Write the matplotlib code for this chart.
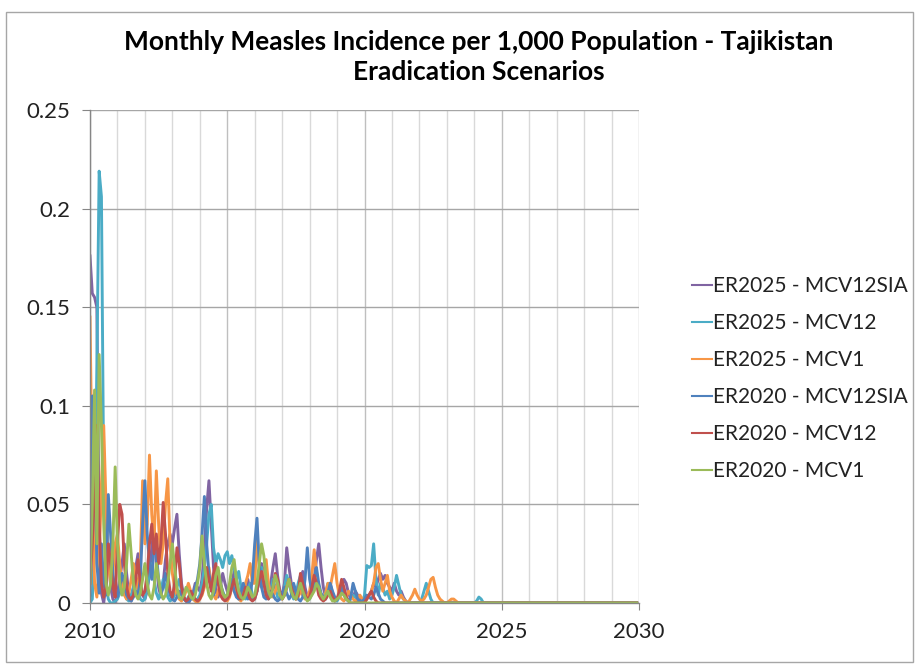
import numpy as np
import matplotlib
matplotlib.use("Agg")
import matplotlib.pyplot as plt
from matplotlib.patches import Rectangle
from matplotlib.ticker import MultipleLocator, FixedLocator

plt.rcParams['font.family'] = ['Lato', 'DejaVu Sans']

title = "Monthly Measles Incidence per 1,000 Population - Tajikistan\nEradication Scenarios"
start_year = 2010
end_year = 2030
x_tick_years = [2010, 2015, 2020, 2025, 2030]
y_ticks = [0, 0.05, 0.1, 0.15, 0.2, 0.25]
y_tick_labels = ["0", "0.05", "0.1", "0.15", "0.2", "0.25"]

labels = ["ER2025 - MCV12SIA", "ER2025 - MCV12", "ER2025 - MCV1",
          "ER2020 - MCV12SIA", "ER2020 - MCV12", "ER2020 - MCV1"]
colors = ["#8064A2", "#4BACC6", "#F79646", "#4F81BD", "#C0504D", "#9BBB59"]

Z = [0, 0, 0, 0, 0, 0, 0, 0, 0, 0, 0, 0]

er2025_mcv12sia = [
    0.176, 0.157, 0.155, 0.150, 0.040, 0.005, 0.000, 0.010, 0.030, 0.008, 0.002, 0.000,
    0.005, 0.012, 0.020, 0.030, 0.015, 0.004, 0.001, 0.008, 0.018, 0.025, 0.012, 0.004,
    0.002, 0.006, 0.015, 0.028, 0.038, 0.020, 0.008, 0.003, 0.010, 0.022, 0.030, 0.035,
    0.030, 0.038, 0.045, 0.025, 0.010, 0.003, 0.001, 0.000, 0.002, 0.005, 0.010, 0.008,
    0.006, 0.012, 0.028, 0.048, 0.062, 0.040, 0.018, 0.006, 0.003, 0.008, 0.015, 0.010,
    0.006, 0.004, 0.010, 0.016, 0.012, 0.006, 0.002, 0.004, 0.008, 0.012, 0.006, 0.002,
    0.003, 0.006, 0.012, 0.020, 0.015, 0.008, 0.004, 0.010, 0.018, 0.025, 0.014, 0.006,
    0.004, 0.010, 0.028, 0.018, 0.010, 0.006, 0.002, 0.004, 0.010, 0.016, 0.008, 0.003,
    0.003, 0.006, 0.012, 0.022, 0.030, 0.018, 0.008, 0.003, 0.006, 0.010, 0.005, 0.002,
    0.002, 0.004, 0.008, 0.012, 0.010, 0.005, 0.002, 0.003, 0.006, 0.004, 0.002, 0.001,
    0.001, 0.002, 0.004, 0.006, 0.010, 0.008, 0.012, 0.015, 0.012, 0.014, 0.010, 0.008,
    0.006, 0.010, 0.006, 0.004, 0.006, 0.003, 0.001, 0.000, 0.000, 0.000, 0.000, 0.000,
] + Z * 8

er2025_mcv12 = [
    0.000, 0.002, 0.030, 0.120, 0.219, 0.206, 0.060, 0.010, 0.002, 0.000, 0.000, 0.001,
    0.002, 0.005, 0.010, 0.006, 0.002, 0.001, 0.004, 0.008, 0.012, 0.006, 0.002, 0.001,
    0.002, 0.008, 0.015, 0.020, 0.012, 0.005, 0.002, 0.006, 0.012, 0.008, 0.003, 0.001,
    0.002, 0.004, 0.008, 0.012, 0.006, 0.002, 0.001, 0.003, 0.005, 0.003, 0.001, 0.002,
    0.004, 0.010, 0.018, 0.030, 0.045, 0.050, 0.028, 0.020, 0.025, 0.022, 0.018, 0.024,
    0.026, 0.020, 0.024, 0.018, 0.012, 0.016, 0.008, 0.004, 0.002, 0.006, 0.010, 0.004,
    0.002, 0.006, 0.012, 0.018, 0.010, 0.004, 0.002, 0.006, 0.012, 0.008, 0.003, 0.002,
    0.003, 0.008, 0.014, 0.010, 0.005, 0.002, 0.004, 0.010, 0.014, 0.008, 0.003, 0.002,
    0.002, 0.005, 0.008, 0.012, 0.008, 0.004, 0.002, 0.005, 0.010, 0.006, 0.002, 0.001,
    0.001, 0.003, 0.006, 0.004, 0.002, 0.001, 0.002, 0.004, 0.003, 0.001, 0.000, 0.000,
    0.004, 0.019, 0.018, 0.019, 0.030, 0.012, 0.004, 0.010, 0.008, 0.004, 0.006, 0.002,
    0.004, 0.008, 0.014, 0.009, 0.004, 0.002, 0.001, 0.000, 0.000, 0.000, 0.000, 0.000,
    0.000, 0.002, 0.006, 0.010, 0.006, 0.002, 0.000, 0.000, 0.000, 0.000, 0.000, 0.000,
    0.000, 0.000, 0.000, 0.000, 0.000, 0.000, 0.000, 0.000, 0.000, 0.000, 0.000, 0.000,
    0.000, 0.001, 0.003, 0.002, 0.000, 0.000, 0.000, 0.000, 0.000, 0.000, 0.000, 0.000,
] + Z * 5

er2025_mcv1 = [
    0.145, 0.060, 0.010, 0.003, 0.020, 0.060, 0.090, 0.050, 0.020, 0.010, 0.015, 0.030,
    0.035, 0.020, 0.010, 0.004, 0.002, 0.005, 0.012, 0.020, 0.014, 0.006, 0.020, 0.062,
    0.030, 0.040, 0.075, 0.045, 0.030, 0.067, 0.040, 0.020, 0.030, 0.050, 0.063, 0.030,
    0.015, 0.008, 0.004, 0.002, 0.001, 0.003, 0.006, 0.010, 0.006, 0.002, 0.001, 0.000,
    0.002, 0.004, 0.008, 0.012, 0.018, 0.010, 0.004, 0.002, 0.006, 0.010, 0.005, 0.002,
    0.001, 0.003, 0.008, 0.012, 0.006, 0.002, 0.001, 0.004, 0.010, 0.014, 0.020, 0.010,
    0.010, 0.034, 0.018, 0.008, 0.012, 0.022, 0.010, 0.004, 0.003, 0.006, 0.010, 0.004,
    0.002, 0.004, 0.008, 0.012, 0.008, 0.004, 0.002, 0.003, 0.006, 0.004, 0.002, 0.003,
    0.006, 0.014, 0.027, 0.016, 0.006, 0.003, 0.002, 0.005, 0.010, 0.008, 0.014, 0.020,
    0.010, 0.004, 0.002, 0.001, 0.003, 0.006, 0.004, 0.002, 0.001, 0.002, 0.004, 0.002,
    0.001, 0.002, 0.004, 0.006, 0.010, 0.018, 0.020, 0.012, 0.006, 0.010, 0.014, 0.006,
    0.003, 0.001, 0.000, 0.002, 0.004, 0.002, 0.001, 0.000, 0.002, 0.004, 0.007, 0.004,
    0.002, 0.001, 0.002, 0.004, 0.008, 0.012, 0.013, 0.008, 0.004, 0.002, 0.001, 0.000,
    0.000, 0.001, 0.002, 0.002, 0.001, 0.000, 0.000, 0.000, 0.000, 0.000, 0.000, 0.000,
] + Z * 6

er2020_mcv12sia = [
    0.004, 0.105, 0.098, 0.020, 0.005, 0.030, 0.010, 0.004, 0.055, 0.035, 0.015, 0.005,
    0.003, 0.008, 0.015, 0.010, 0.004, 0.002, 0.001, 0.003, 0.006, 0.004, 0.012, 0.040,
    0.062, 0.035, 0.020, 0.012, 0.030, 0.025, 0.012, 0.005, 0.008, 0.015, 0.010, 0.004,
    0.002, 0.001, 0.003, 0.006, 0.004, 0.002, 0.001, 0.000, 0.002, 0.004, 0.008, 0.012,
    0.020, 0.035, 0.054, 0.030, 0.015, 0.008, 0.004, 0.010, 0.016, 0.010, 0.006, 0.003,
    0.004, 0.008, 0.012, 0.006, 0.003, 0.002, 0.005, 0.010, 0.006, 0.002, 0.004, 0.012,
    0.030, 0.043, 0.020, 0.008, 0.003, 0.002, 0.004, 0.006, 0.004, 0.002, 0.001, 0.002,
    0.004, 0.008, 0.005, 0.002, 0.004, 0.010, 0.006, 0.002, 0.001, 0.003, 0.012, 0.028,
    0.012, 0.006, 0.012, 0.018, 0.010, 0.005, 0.003, 0.002, 0.005, 0.010, 0.006, 0.003,
    0.002, 0.004, 0.008, 0.005, 0.002, 0.001, 0.003, 0.010, 0.006, 0.002, 0.001, 0.001,
    0.002, 0.004, 0.003, 0.002, 0.004, 0.008, 0.005, 0.002, 0.001, 0.000, 0.000, 0.000,
] + Z * 9

er2020_mcv12 = [
    0.010, 0.030, 0.060, 0.090, 0.040, 0.010, 0.003, 0.008, 0.030, 0.020, 0.008, 0.003,
    0.030, 0.050, 0.045, 0.020, 0.008, 0.003, 0.002, 0.004, 0.012, 0.022, 0.010, 0.004,
    0.006, 0.015, 0.030, 0.040, 0.025, 0.035, 0.020, 0.030, 0.051, 0.035, 0.015, 0.006,
    0.003, 0.010, 0.028, 0.020, 0.008, 0.003, 0.001, 0.002, 0.006, 0.004, 0.002, 0.001,
    0.002, 0.005, 0.010, 0.018, 0.012, 0.006, 0.015, 0.020, 0.010, 0.004, 0.002, 0.001,
    0.002, 0.004, 0.008, 0.012, 0.008, 0.003, 0.002, 0.004, 0.008, 0.005, 0.002, 0.001,
    0.002, 0.006, 0.012, 0.016, 0.010, 0.004, 0.002, 0.004, 0.008, 0.015, 0.012, 0.005,
    0.002, 0.004, 0.008, 0.012, 0.008, 0.004, 0.002, 0.004, 0.015, 0.010, 0.004, 0.002,
    0.003, 0.008, 0.014, 0.010, 0.004, 0.002, 0.001, 0.002, 0.004, 0.006, 0.003, 0.001,
    0.002, 0.006, 0.012, 0.008, 0.003, 0.001, 0.000, 0.000, 0.000, 0.000, 0.000, 0.000,
    0.000, 0.002, 0.004, 0.006, 0.003, 0.001, 0.000, 0.000, 0.000, 0.000, 0.000, 0.000,
] + Z * 9

er2020_mcv1 = [
    0.010, 0.050, 0.108, 0.030, 0.126, 0.090, 0.040, 0.010, 0.004, 0.010, 0.030, 0.069,
    0.030, 0.010, 0.004, 0.008, 0.020, 0.040, 0.025, 0.010, 0.004, 0.002, 0.005, 0.012,
    0.020, 0.010, 0.004, 0.002, 0.008, 0.020, 0.012, 0.005, 0.002, 0.004, 0.010, 0.020,
    0.030, 0.018, 0.008, 0.003, 0.002, 0.004, 0.008, 0.006, 0.003, 0.002, 0.004, 0.010,
    0.018, 0.034, 0.020, 0.010, 0.004, 0.002, 0.006, 0.014, 0.018, 0.010, 0.005, 0.003,
    0.004, 0.010, 0.018, 0.022, 0.012, 0.006, 0.003, 0.002, 0.004, 0.008, 0.006, 0.003,
    0.004, 0.010, 0.020, 0.030, 0.024, 0.012, 0.006, 0.003, 0.008, 0.014, 0.010, 0.004,
    0.002, 0.004, 0.008, 0.012, 0.006, 0.003, 0.002, 0.006, 0.010, 0.006, 0.003, 0.001,
    0.002, 0.004, 0.006, 0.010, 0.008, 0.004, 0.002, 0.004, 0.006, 0.003, 0.001, 0.001,
    0.002, 0.003, 0.005, 0.004, 0.002, 0.001, 0.000, 0.000, 0.000, 0.000, 0.000, 0.000,
] + Z * 10

series = [er2025_mcv12sia, er2025_mcv12, er2025_mcv1,
          er2020_mcv12sia, er2020_mcv12, er2020_mcv1]

W, H = 919, 670
fig = plt.figure(figsize=(W / 100, H / 100), dpi=100)
fig.patch.set_facecolor("white")

# chart border
fig.add_artist(Rectangle((6 / W, 8 / H), (W - 12) / W, (H - 20) / H,
                         transform=fig.transFigure, fill=False,
                         edgecolor="#A6A6A6", linewidth=1.0))

ax = fig.add_axes([90 / W, (H - 603) / H, (639 - 90) / W, (603 - 110) / H])

for vals, lab, col in zip(series, labels, colors):
    x = start_year + np.arange(len(vals)) / 12.0
    ax.plot(x, vals, color=col, lw=2.1, label=lab, solid_joinstyle="round")

ax.set_xlim(start_year, end_year)
ax.set_ylim(0, 0.25)
ax.xaxis.set_major_locator(FixedLocator(x_tick_years))
ax.xaxis.set_minor_locator(MultipleLocator(1))
ax.set_xticklabels([str(y) for y in x_tick_years])
ax.set_yticks(y_ticks)
ax.set_yticklabels(y_tick_labels)

ax.grid(axis="y", which="major", color="#A6A6A6", lw=1.0)
ax.grid(axis="x", which="minor", color="#D9D9D9", lw=1.0)
ax.grid(axis="x", which="major", color="#BFBFBF", lw=1.0)
ax.set_axisbelow(True)

for s in ["top", "right"]:
    ax.spines[s].set_visible(False)
for s in ["left", "bottom"]:
    ax.spines[s].set_color("#868686")
    ax.spines[s].set_linewidth(1.0)

ax.tick_params(axis="y", which="major", length=6, color="#868686", labelsize=16,
               pad=8, labelcolor="#222222")
ax.tick_params(axis="x", which="major", length=5, color="#868686", labelsize=16,
               pad=9, labelcolor="#222222")
ax.tick_params(axis="x", which="minor", length=0)

fig.text(479 / W, 1 - 57 / H, title, ha="center", va="center", fontsize=19,
         fontweight="bold", linespacing=1.25)

leg = fig.legend(loc="upper left", bbox_to_anchor=(692 / W, 1 - 276 / H),
                 frameon=False, fontsize=15, handlelength=0.95, handletextpad=0.08,
                 labelspacing=0.82, borderaxespad=0, borderpad=0)
for t in leg.get_texts():
    t.set_color("#222222")
for line in leg.get_lines():
    line.set_linewidth(1.5)

fig.savefig("out.png", dpi=100)
